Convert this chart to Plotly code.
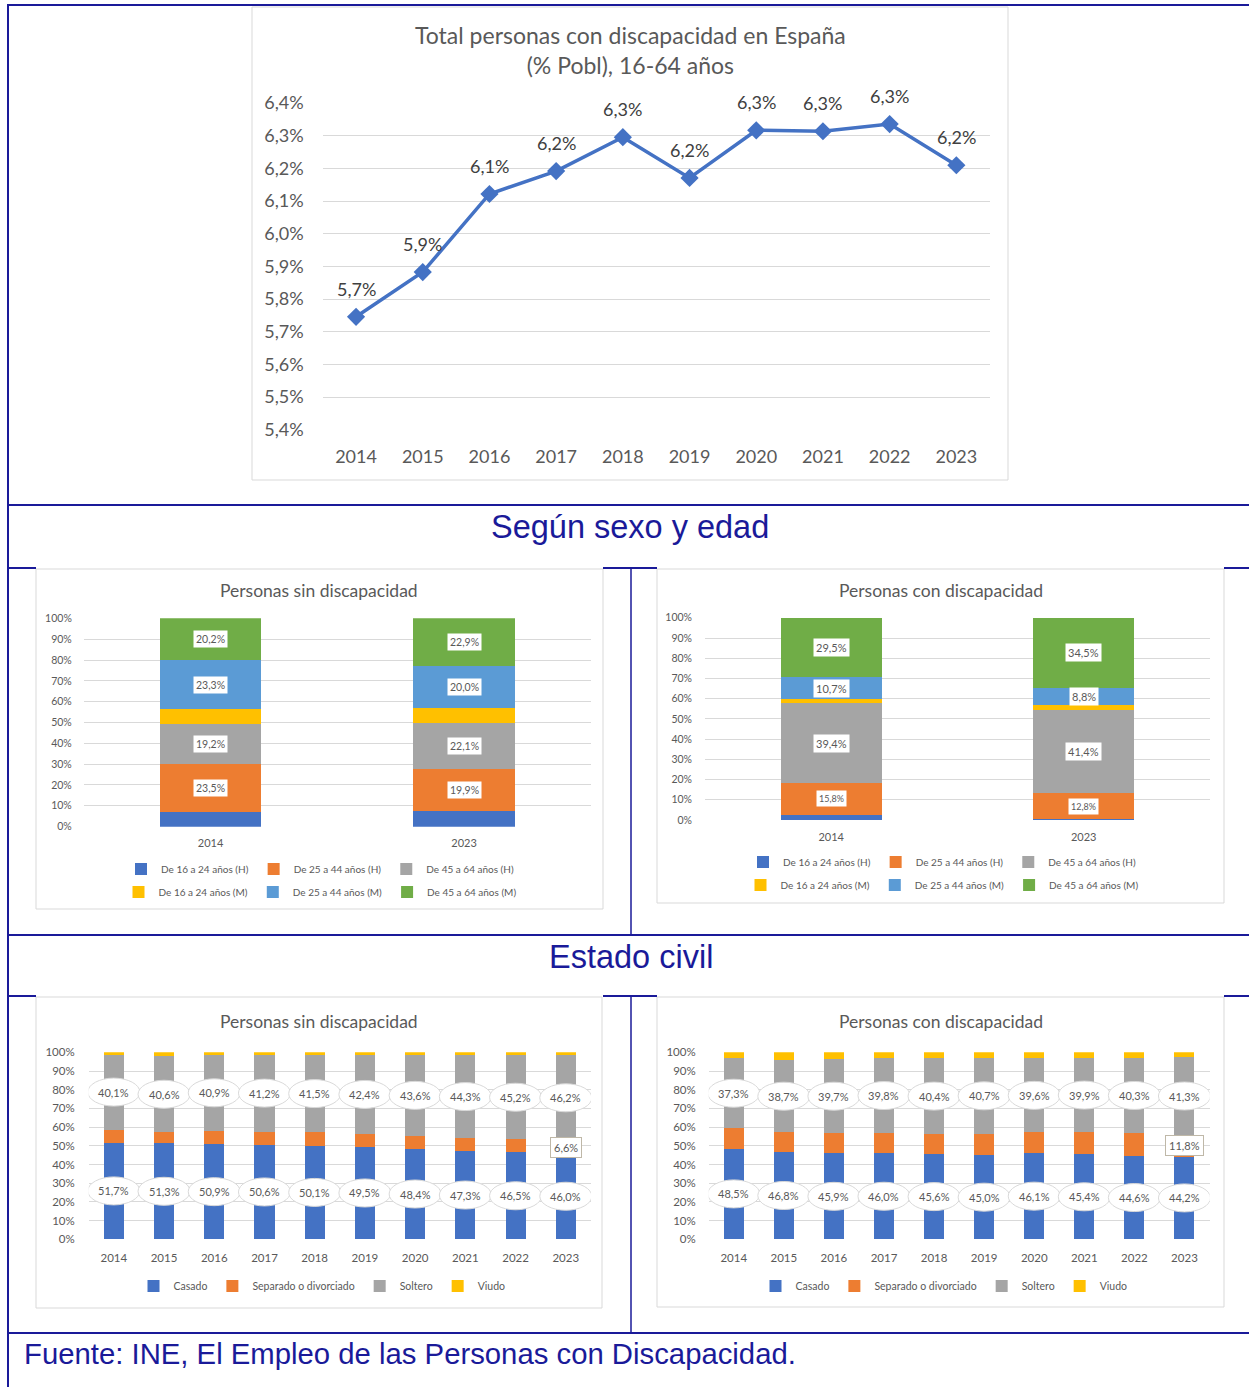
import plotly.graph_objects as go

W, H = 1249, 1387
FONT = "Lato"
TXT = "#595959"
NAVY = "#1a1a99"
GRID = "#D9D9D9"

# ---------------- data ----------------
years = ["2014", "2015", "2016", "2017", "2018", "2019", "2020", "2021", "2022", "2023"]
total_pct = [5.746, 5.883, 6.122, 6.192, 6.296, 6.171, 6.317, 6.314, 6.336, 6.210]
total_ticks = [5.4, 5.5, 5.6, 5.7, 5.8, 5.9, 6.0, 6.1, 6.2, 6.3, 6.4]

edad_years = ["2014", "2023"]
edad_labels = ["De 16 a 24 años (H)", "De 25 a 44 años (H)", "De 45 a 64 años (H)",
               "De 16 a 24 años (M)", "De 25 a 44 años (M)", "De 45 a 64 años (M)"]
edad_colors = ["#4472C4", "#ED7D31", "#A5A5A5", "#FFC000", "#5B9BD5", "#70AD47"]
edad_show_label = [False, True, True, False, True, True]

sin_h16 = [6.8, 7.7]
sin_h25 = [23.5, 19.9]
sin_h45 = [19.2, 22.1]
sin_m16 = [7.0, 7.4]
sin_m25 = [23.3, 20.0]
sin_m45 = [20.2, 22.9]

con_h16 = [2.5, 0.4]
con_h25 = [15.8, 12.8]
con_h45 = [39.4, 41.4]
con_m16 = [2.1, 2.1]
con_m25 = [10.7, 8.8]
con_m45 = [29.5, 34.5]

civil_labels = ["Casado", "Separado o divorciado", "Soltero", "Viudo"]
civil_colors = ["#4472C4", "#ED7D31", "#A5A5A5", "#FFC000"]

sin_casado = [51.7, 51.3, 50.9, 50.6, 50.1, 49.5, 48.4, 47.3, 46.5, 46.0]
sin_separado = [7.0, 6.0, 7.0, 7.0, 7.1, 6.8, 6.8, 6.9, 6.9, 6.6]
sin_soltero = [40.1, 40.6, 40.9, 41.2, 41.5, 42.4, 43.6, 44.3, 45.2, 46.2]
sin_viudo = [1.2, 2.1, 1.2, 1.2, 1.3, 1.3, 1.2, 1.5, 1.4, 1.2]

con_casado = [48.5, 46.8, 45.9, 46.0, 45.6, 45.0, 46.1, 45.4, 44.6, 44.2]
con_separado = [11.0, 10.4, 10.8, 11.0, 10.8, 11.4, 11.1, 11.8, 12.2, 11.8]
con_soltero = [37.3, 38.7, 39.7, 39.8, 40.4, 40.7, 39.6, 39.9, 40.3, 41.3]
con_viudo = [3.2, 4.1, 3.6, 3.2, 3.2, 2.9, 3.2, 2.9, 2.9, 2.7]

pct_ticks = [0, 10, 20, 30, 40, 50, 60, 70, 80, 90, 100]


def fmt(v):
    return f"{v:.1f}".replace(".", ",") + "%"


def dx(a, b):
    return [a / W, b / W]


def dy(top, bottom):
    return [1 - bottom / H, 1 - top / H]


fig = go.Figure()
annotations = []
shapes = []

# ---------------- top line chart ----------------
fig.add_trace(go.Scatter(
    x=years, y=total_pct, mode="lines+markers", xaxis="x", yaxis="y",
    line=dict(color="#4472C4", width=3.5),
    marker=dict(symbol="diamond", size=14, color="#4472C4"),
    showlegend=False, hoverinfo="skip"))
for j, v in enumerate(total_pct):
    annotations.append(dict(x=j, y=v, xref="x", yref="y", text=fmt(v), showarrow=False,
                            yshift=28, font=dict(family=FONT, size=18, color="#404040")))


# ---------------- stacked bars (sexo y edad) ----------------
def add_edad(series, xa, ya, leg_h, leg_m, lab_size, small_first=False):
    base = [0.0] * len(edad_years)
    for k, (vals, name, col) in enumerate(zip(series, edad_labels, edad_colors)):
        fig.add_trace(go.Bar(x=edad_years, y=vals, name=name, marker=dict(color=col, line=dict(width=0)),
                             xaxis=xa, yaxis=ya, legend=(leg_h if k < 3 else leg_m), hoverinfo="skip"))
        if edad_show_label[k]:
            for j, v in enumerate(vals):
                size = lab_size
                if small_first and k == 1:
                    size = lab_size - 2
                annotations.append(dict(x=j, y=base[j] + v / 2, xref=xa, yref=ya, text=fmt(v),
                                        showarrow=False, bgcolor="white", borderpad=2,
                                        font=dict(family=FONT, size=size, color=TXT)))
        base = [b + v for b, v in zip(base, vals)]


add_edad([sin_h16, sin_h25, sin_h45, sin_m16, sin_m25, sin_m45], "x2", "y2", "legend", "legend2", 10.5)
add_edad([con_h16, con_h25, con_h45, con_m16, con_m25, con_m45], "x3", "y3", "legend3", "legend4", 11, True)


# ---------------- stacked bars (estado civil) ----------------
def add_civil(series, xa, ya, leg):
    base = [0.0] * len(years)
    for k, (vals, name, col) in enumerate(zip(series, civil_labels, civil_colors)):
        fig.add_trace(go.Bar(x=years, y=vals, name=name, marker=dict(color=col, line=dict(width=0)),
                             xaxis=xa, yaxis=ya, legend=leg, hoverinfo="skip"))
        for j, v in enumerate(vals):
            mid = base[j] + v / 2
            if k in (0, 2):
                shapes.append(dict(type="circle", xref=xa, yref=ya, xsizemode="pixel", ysizemode="pixel",
                                   xanchor=j, yanchor=mid, x0=-26, x1=26, y0=-14, y1=14,
                                   fillcolor="white", line=dict(color=GRID, width=1), layer="above"))
                annotations.append(dict(x=j, y=mid, xref=xa, yref=ya, text=fmt(v), showarrow=False,
                                        font=dict(family=FONT, size=11, color=TXT)))
            elif k == 1 and j == len(vals) - 1:
                annotations.append(dict(x=j, y=mid, xref=xa, yref=ya, text=fmt(v), showarrow=False,
                                        bgcolor="white", bordercolor="#BFB8A8", borderwidth=1, borderpad=3,
                                        font=dict(family=FONT, size=11, color=TXT)))
        base = [b + v for b, v in zip(base, vals)]


add_civil([sin_casado, sin_separado, sin_soltero, sin_viudo], "x4", "y4", "legend5")
add_civil([con_casado, con_separado, con_soltero, con_viudo], "x5", "y5", "legend6")


# ---------------- frame lines and chart boxes ----------------
def hline(y, x0, x1, w=2):
    shapes.append(dict(type="line", xref="paper", yref="paper", x0=x0 / W, x1=x1 / W, y0=1 - y / H, y1=1 - y / H,
                       line=dict(color=NAVY, width=w), layer="below"))


def vline(x, y0, y1, w=2):
    shapes.append(dict(type="line", xref="paper", yref="paper", x0=x / W, x1=x / W, y0=1 - y0 / H, y1=1 - y1 / H,
                       line=dict(color=NAVY, width=w), layer="below"))


def box(x0, y0, x1, y1):
    shapes.append(dict(type="rect", xref="paper", yref="paper", x0=x0 / W, x1=x1 / W, y0=1 - y1 / H, y1=1 - y0 / H,
                       fillcolor="white", line=dict(color=GRID, width=1), layer="below"))


hline(5, 7, W)
vline(8, 4, H)
hline(505, 8, W)
for yy in (568, 996):
    hline(yy, 8, 36)
    hline(yy, 603, 657)
    hline(yy, 1224, W)
hline(935, 8, W)
hline(1333, 8, W)
vline(631, 568, 935, 1.5)
vline(631, 996, 1333, 1.5)

box(252, 7, 1008, 480)
box(36, 569, 603, 909)
box(657, 569, 1224, 903)
box(36, 997, 602, 1308)
box(657, 997, 1224, 1307)


def paper_text(text, xc, yc, size, color=TXT, family=FONT, xanchor="center"):
    annotations.append(dict(text=text, x=xc / W, y=1 - yc / H, xref="paper", yref="paper", showarrow=False,
                            xanchor=xanchor, yanchor="middle", font=dict(family=family, size=size, color=color)))


paper_text("Total personas con discapacidad en España<br>(% Pobl), 16-64 años", 630, 50, 23)
paper_text("Personas sin discapacidad", 319, 590, 17.5)
paper_text("Personas con discapacidad", 941, 590, 17.5)
paper_text("Personas sin discapacidad", 319, 1021, 17.5)
paper_text("Personas con discapacidad", 941, 1021, 17.5)
paper_text("Según sexo y edad", 630, 527, 32.5, NAVY, "Liberation Sans")
paper_text("Estado civil", 631, 957, 32.5, NAVY, "Liberation Sans")
paper_text("Fuente: INE, El Empleo de las Personas con Discapacidad.", 22, 1353, 29.3, NAVY,
           "Liberation Sans", "left")


# ---------------- axes ----------------
def xax(domain, anchor, size, standoff, n):
    return dict(domain=domain, anchor=anchor, type="category", range=[-0.5, n - 0.5],
                showgrid=False, zeroline=False, showline=False, ticks="", ticklabelstandoff=standoff,
                tickfont=dict(family=FONT, size=size, color=TXT), fixedrange=True)


def yax(domain, anchor, size, standoff, rng, tickvals, ticktext):
    return dict(domain=domain, anchor=anchor, range=rng, tickmode="array", tickvals=tickvals, ticktext=ticktext,
                showgrid=True, gridcolor=GRID, gridwidth=1, zeroline=False, showline=False, ticks="",
                ticklabelstandoff=standoff, tickfont=dict(family=FONT, size=size, color=TXT), fixedrange=True)


def leg(xc, yc, size):
    return dict(orientation="h", x=xc / W, y=1 - yc / H, xanchor="center", yanchor="middle",
                font=dict(family=FONT, size=size, color=TXT), bgcolor="rgba(0,0,0,0)",
                itemwidth=30, tracegroupgap=0, traceorder="normal", itemclick=False, itemdoubleclick=False)


total_text = [fmt(v) for v in total_ticks]
pct_text = [f"{v}%" for v in pct_ticks]

fig.update_layout(
    width=W, height=H, margin=dict(l=0, r=0, t=0, b=0, autoexpand=False),
    paper_bgcolor="white", plot_bgcolor="rgba(0,0,0,0)",
    separators=",.", barmode="stack", bargap=0.6,
    font=dict(family=FONT, color=TXT),
    xaxis=xax(dx(322.7, 989.7), "y", 18, 14, len(years)),
    yaxis=yax(dy(103, 430), "x", 18, 18, [5.3995, 6.4005], total_ticks, total_text),
    xaxis2=xax(dx(83.8, 590.8), "y2", 11, 8, len(edad_years)),
    yaxis2=yax(dy(618.3, 826.7), "x2", 10.5, 11, [-0.05, 100.05], pct_ticks, pct_text),
    xaxis3=xax(dx(705, 1210), "y3", 11, 9, len(edad_years)),
    yaxis3=yax(dy(617.7, 820), "x3", 10.5, 12, [-0.05, 100.05], pct_ticks, pct_text),
    xaxis4=xax(dx(88.7, 590.9), "y4", 11.5, 10, len(years)),
    yaxis4=yax(dy(1052.3, 1239.3), "x4", 11.5, 13, [-0.05, 100.05], pct_ticks, pct_text),
    xaxis5=xax(dx(708.7, 1209.5), "y5", 11.5, 10, len(years)),
    yaxis5=yax(dy(1052.3, 1239.3), "x5", 11.5, 12, [-0.05, 100.05], pct_ticks, pct_text),
    legend=leg(320, 869, 10),
    legend2=leg(320, 892, 10),
    legend3=leg(942, 862, 10),
    legend4=leg(942, 885, 10),
    legend5=leg(322, 1286, 10.5),
    legend6=leg(944, 1286, 10.5),
    annotations=annotations,
    shapes=shapes,
)

fig.write_html("out.html", config={"displayModeBar": False, "staticPlot": True},
               post_script="document.body.style.margin='0px';")
